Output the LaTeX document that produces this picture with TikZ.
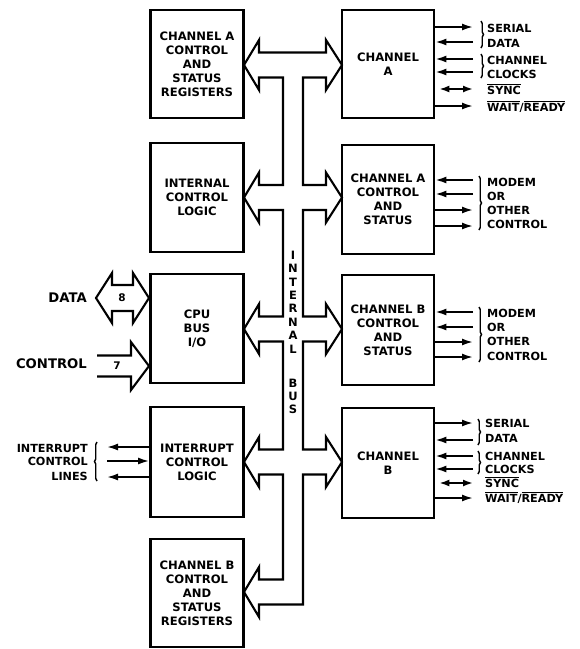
\documentclass[tikz,border=0pt]{standalone}
\usepackage{fontspec}
\setmainfont{DejaVu Sans}
\usetikzlibrary{arrows.meta,decorations.pathreplacing}
\newcommand{\ovl}[1]{$\overline{\mbox{#1}}$}
\begin{document}
\begin{tikzpicture}[x=1pt,y=-1pt,
  blk/.style={draw,line width=2.7pt,minimum width=93pt,minimum height=108pt,align=center,
    font=\bfseries\fontsize{11.6}{14}\selectfont,inner sep=0pt},
  lbl/.style={font=\bfseries\fontsize{11.2}{12}\selectfont,inner sep=0pt,text height=8pt,text depth=0pt},
  big/.style={font=\bfseries\fontsize{13.2}{15}\selectfont,inner sep=0pt,text height=9.6pt,text depth=0pt},
  sig/.style={line width=1.8pt,-{Latex[length=11pt,width=7pt]}},
  sigboth/.style={line width=1.8pt,{Latex[length=10pt,width=7pt]}-{Latex[length=10pt,width=7pt]}},
  busline/.style={line width=2.1pt,line join=miter},
  brc/.style={decorate,decoration={brace,amplitude=2.5pt},line width=1.4pt},
  busletter/.style={font=\bfseries\fontsize{11.5}{12}\selectfont,inner sep=0pt}]
\useasboundingbox (0,0) rectangle (580,649);

% left blocks
\node[blk] (regA) at (197,64) {CHANNEL A\\CONTROL\\AND\\STATUS\\REGISTERS};
\node[blk,minimum height=109pt] (icl) at (197,197.5) {INTERNAL\\CONTROL\\LOGIC};
\node[blk,minimum height=109pt] (cpu) at (197,328.5) {CPU\\BUS\\I/O};
\node[blk,minimum height=110pt] (intr) at (197,462) {INTERRUPT\\CONTROL\\LOGIC};
\node[blk] (regB) at (197,593) {CHANNEL B\\CONTROL\\AND\\STATUS\\REGISTERS};

% right blocks
\node[blk,minimum width=92pt] (chA) at (388,64) {CHANNEL\\A};
\node[blk,minimum width=92pt,minimum height=109pt] (ctlA) at (388,199.5) {CHANNEL A\\CONTROL\\AND\\STATUS};
\node[blk,minimum width=92pt,minimum height=110pt] (ctlB) at (388,330) {CHANNEL B\\CONTROL\\AND\\STATUS};
\node[blk,minimum width=92pt,minimum height=110pt] (chB) at (388,463) {CHANNEL\\B};

% internal bus outline
\draw[busline] (244,65) -- (259,40) -- (259,52.5) -- (326,52.5) -- (326,40) -- (342,65) -- (326,90) -- (326,77.5) -- (303,77.5)
 -- (303,185) -- (326,185) -- (326,172.5) -- (342,197.5) -- (326,222.5) -- (326,210) -- (303,210)
 -- (303,316.5) -- (326,316.5) -- (326,304) -- (342,329) -- (326,354) -- (326,341.5) -- (303,341.5)
 -- (303,449.5) -- (326,449.5) -- (326,437) -- (342,462) -- (326,487) -- (326,474.5) -- (303,474.5)
 -- (303,604.5) -- (259,604.5) -- (259,617) -- (244,592) -- (259,567) -- (259,579.5) -- (283,579.5)
 -- (283,474.5) -- (259,474.5) -- (259,487) -- (244,462) -- (259,437) -- (259,449.5) -- (283,449.5)
 -- (283,341.5) -- (259,341.5) -- (259,354) -- (244,329) -- (259,304) -- (259,316.5) -- (283,316.5)
 -- (283,210) -- (259,210) -- (259,222.5) -- (244,197.5) -- (259,172.5) -- (259,185) -- (283,185)
 -- (283,77.5) -- (259,77.5) -- (259,90) -- cycle;

\foreach \ch/\yy in {I/255,N/268,T/282,E/295,R/308,N/322,A/335,L/349,B/383,U/396,S/409}
  \node[busletter,name=bl\yy] at (293,\yy) {\ch};

% DATA and CONTROL
\draw[busline] (96,298) -- (112,273) -- (112,285) -- (133,285) -- (133,273) -- (149,298) -- (133,323) -- (133,311) -- (112,311) -- (112,323) -- cycle;
\node[font=\bfseries\fontsize{10.5}{12}\selectfont,inner sep=0pt] (n8) at (122,298) {8};
\node[big,anchor=east] (dat) at (87,298) {DATA};
\draw[busline] (97,355.5) -- (131,355.5) -- (131,342) -- (149,366) -- (131,390) -- (131,376.5) -- (97,376.5);
\node[font=\bfseries\fontsize{10.5}{12}\selectfont,inner sep=0pt] (n7) at (117,366) {7};
\node[big,anchor=east] (ctl) at (87,364) {CONTROL};

% Channel A signals
\coordinate (a1) at (473,27); \coordinate (a2) at (473,42); \coordinate (a3) at (473,59);
\coordinate (a4) at (473,72); \coordinate (a5) at (473,89); \coordinate (a6) at (473,106);
\draw[sig] (chA.east |- a1) -- (a1);
\draw[sig] (a2) -- (chA.east |- a2);
\draw[sig] (a3) -- (chA.east |- a3);
\draw[sig] (a4) -- (chA.east |- a4);
\draw[sigboth,shorten <=4pt] (chA.east |- a5) -- (a5);
\draw[sig] (chA.east |- a6) -- (a6);
\coordinate (ba1) at (481,21); \coordinate (ba2) at (481,48);
\coordinate (ba3) at (481,54); \coordinate (ba4) at (481,78);
\draw[brc] (ba1) -- (ba2);
\draw[brc] (ba3) -- (ba4);
\node[lbl,anchor=west] (ta1) at (487,28) {SERIAL};
\node[lbl,anchor=west] (ta2) at (487,43) {DATA};
\node[lbl,anchor=west] (ta3) at (487,60) {CHANNEL};
\node[lbl,anchor=west] (ta4) at (487,74) {CLOCKS};
\node[lbl,anchor=west] (ta5) at (487,90) {\ovl{SYNC}};
\node[lbl,anchor=west] (ta6) at (487,107) {\ovl{WAIT}/\ovl{READY}};

% Channel A control signals
\coordinate (m1) at (473,180); \coordinate (m2) at (473,194); \coordinate (m3) at (473,210); \coordinate (m4) at (473,226);
\draw[sig] (m1) -- (ctlA.east |- m1);
\draw[sig] (m2) -- (ctlA.east |- m2);
\draw[sig] (ctlA.east |- m3) -- (m3);
\draw[sig] (ctlA.east |- m4) -- (m4);
\coordinate (bm1) at (479,176); \coordinate (bm2) at (479,230);
\draw[brc] (bm1) -- (bm2);
\node[lbl,anchor=west] (tm1) at (487,182) {MODEM};
\node[lbl,anchor=west] (tm2) at (487,196) {OR};
\node[lbl,anchor=west] (tm3) at (487,210) {OTHER};
\node[lbl,anchor=west] (tm4) at (487,224) {CONTROL};

% Channel B control signals
\coordinate (n1) at (473,312); \coordinate (n2) at (473,327); \coordinate (n3) at (473,342); \coordinate (n4) at (473,357);
\draw[sig] (n1) -- (ctlB.east |- n1);
\draw[sig] (n2) -- (ctlB.east |- n2);
\draw[sig] (ctlB.east |- n3) -- (n3);
\draw[sig] (ctlB.east |- n4) -- (n4);
\coordinate (bn1) at (479,307); \coordinate (bn2) at (479,362);
\draw[brc] (bn1) -- (bn2);
\node[lbl,anchor=west] (tn1) at (487,313) {MODEM};
\node[lbl,anchor=west] (tn2) at (487,327) {OR};
\node[lbl,anchor=west] (tn3) at (487,341) {OTHER};
\node[lbl,anchor=west] (tn4) at (487,356) {CONTROL};

% Channel B signals
\coordinate (b1) at (473,423); \coordinate (b2) at (473,440); \coordinate (b3) at (473,456);
\coordinate (b4) at (473,469); \coordinate (b5) at (473,483); \coordinate (b6) at (473,498);
\draw[sig] (chB.east |- b1) -- (b1);
\draw[sig] (b2) -- (chB.east |- b2);
\draw[sig] (b3) -- (chB.east |- b3);
\draw[sig] (b4) -- (chB.east |- b4);
\draw[sigboth,shorten <=4pt] (chB.east |- b5) -- (b5);
\draw[sig] (chB.east |- b6) -- (b6);
\coordinate (bb1) at (478,419); \coordinate (bb2) at (478,445);
\coordinate (bb3) at (478,451); \coordinate (bb4) at (478,474);
\draw[brc] (bb1) -- (bb2);
\draw[brc] (bb3) -- (bb4);
\node[lbl,anchor=west] (tb1) at (485,423) {SERIAL};
\node[lbl,anchor=west] (tb2) at (485,438) {DATA};
\node[lbl,anchor=west] (tb3) at (485,456) {CHANNEL};
\node[lbl,anchor=west] (tb4) at (485,469) {CLOCKS};
\node[lbl,anchor=west] (tb5) at (485,483) {\ovl{SYNC}};
\node[lbl,anchor=west] (tb6) at (485,498) {\ovl{WAIT}/\ovl{READY}};

% Interrupt lines
\coordinate (i1) at (107,447); \coordinate (i2) at (107,461); \coordinate (i3) at (107,477);
\draw[sig] (intr.west |- i1) -- (i1);
\draw[sig] (i2) -- (intr.west |- i2);
\draw[sig] (intr.west |- i3) -- (i3);
\coordinate (bi1) at (97,481); \coordinate (bi2) at (97,442);
\draw[brc] (bi1) -- (bi2);
\node[lbl,anchor=east] (ti1) at (88,448) {INTERRUPT};
\node[lbl,anchor=east] (ti2) at (88,461) {CONTROL};
\node[lbl,anchor=east] (ti3) at (88,476) {LINES};
\end{tikzpicture}
\end{document}
